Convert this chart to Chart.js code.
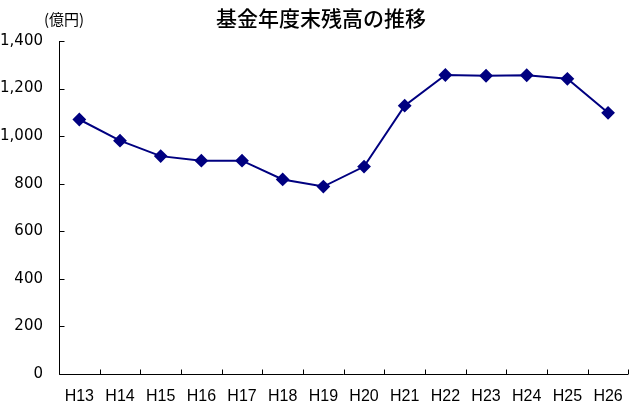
<!DOCTYPE html>
<html><head><meta charset="utf-8">
<script src="https://cdn.jsdelivr.net/npm/chart.js@4"></script>
<style>html,body{margin:0;padding:0;background:#fff}#wrap{width:636px;height:406px}</style>
</head><body><div id="wrap"><canvas id="c" width="636" height="406"></canvas></div>
<script>
const categories = ['H13','H14','H15','H16','H17','H18','H19','H20','H21','H22','H23','H24','H25','H26'];
const balance = [1070, 981, 916, 897, 897, 818, 788, 872, 1128, 1257, 1254, 1256, 1241, 1098];
const yTicks = [0, 200, 400, 600, 800, 1000, 1200, 1400];
const titleText = '基金年度末残高の推移';
const unitText = '(億円)';
const yFont = {family: "'DejaVu Sans', sans-serif", size: 15};
const xFont = {family: "'Liberation Sans Narrow', 'Arial Narrow', 'Liberation Sans', sans-serif", size: 16};

const decor = {
  id: 'decor',
  afterDraw(chart) {
    const ctx = chart.ctx, a = chart.chartArea, xs = chart.scales.x, ys = chart.scales.y;
    ctx.save();
    ctx.strokeStyle = '#000'; ctx.lineWidth = 1;
    ctx.beginPath();
    const L = Math.round(a.left) + 0.5, B = Math.round(a.bottom) + 0.5;
    ctx.moveTo(L, Math.round(a.top)); ctx.lineTo(L, B); ctx.lineTo(Math.round(a.right), B);
    yTicks.forEach(v => { const y = Math.round(ys.getPixelForValue(v)) + 0.5; ctx.moveTo(L, y); ctx.lineTo(L + 5, y); });
    const half = (xs.getPixelForValue(1) - xs.getPixelForValue(0)) / 2;
    for (let i = 0; i <= categories.length; i++) {
      const x = Math.round(xs.getPixelForValue(i) - half) + 0.5;
      ctx.moveTo(x, B); ctx.lineTo(x, B - 5);
    }
    ctx.stroke();
    ctx.fillStyle = '#000';
    ctx.textAlign = 'center'; ctx.textBaseline = 'middle';
    ctx.font = "500 21px 'Noto Sans CJK JP', sans-serif";
    ctx.fillText(titleText, 321, 18);
    ctx.font = "15px 'Noto Sans CJK JP', sans-serif";
    ctx.fillText(unitText, 64, 19);
    ctx.restore();
  }
};

new Chart(document.getElementById('c'), {
  type: 'line',
  data: { labels: categories, datasets: [{
    data: balance, borderColor: '#000080', backgroundColor: '#000080', borderWidth: 2,
    pointStyle: 'rectRot', pointRadius: 5.5, pointHoverRadius: 5.5, tension: 0
  }]},
  options: {
    responsive: false, animation: false, events: [],
    layout: { padding: { top: 41, right: 3, left: 0, bottom: 0 } },
    plugins: { legend: { display: false }, tooltip: { enabled: false }, title: { display: false } },
    scales: {
      x: { offset: true, grid: { display: false, drawTicks: false }, border: { display: false },
           ticks: { color: '#000', font: xFont, padding: 13, maxRotation: 0, autoSkip: false },
           afterFit: s => { s.height = 32; } },
      y: { min: 0, max: 1400, grid: { display: false, drawTicks: false }, border: { display: false },
           afterBuildTicks: s => { s.ticks = yTicks.map(v => ({ value: v })); },
           ticks: { color: '#000', font: yFont, padding: 16,
                    callback: v => v.toLocaleString('en-US') },
           afterFit: s => { s.width = 59; } }
    }
  },
  plugins: [decor]
});
</script></body></html>
